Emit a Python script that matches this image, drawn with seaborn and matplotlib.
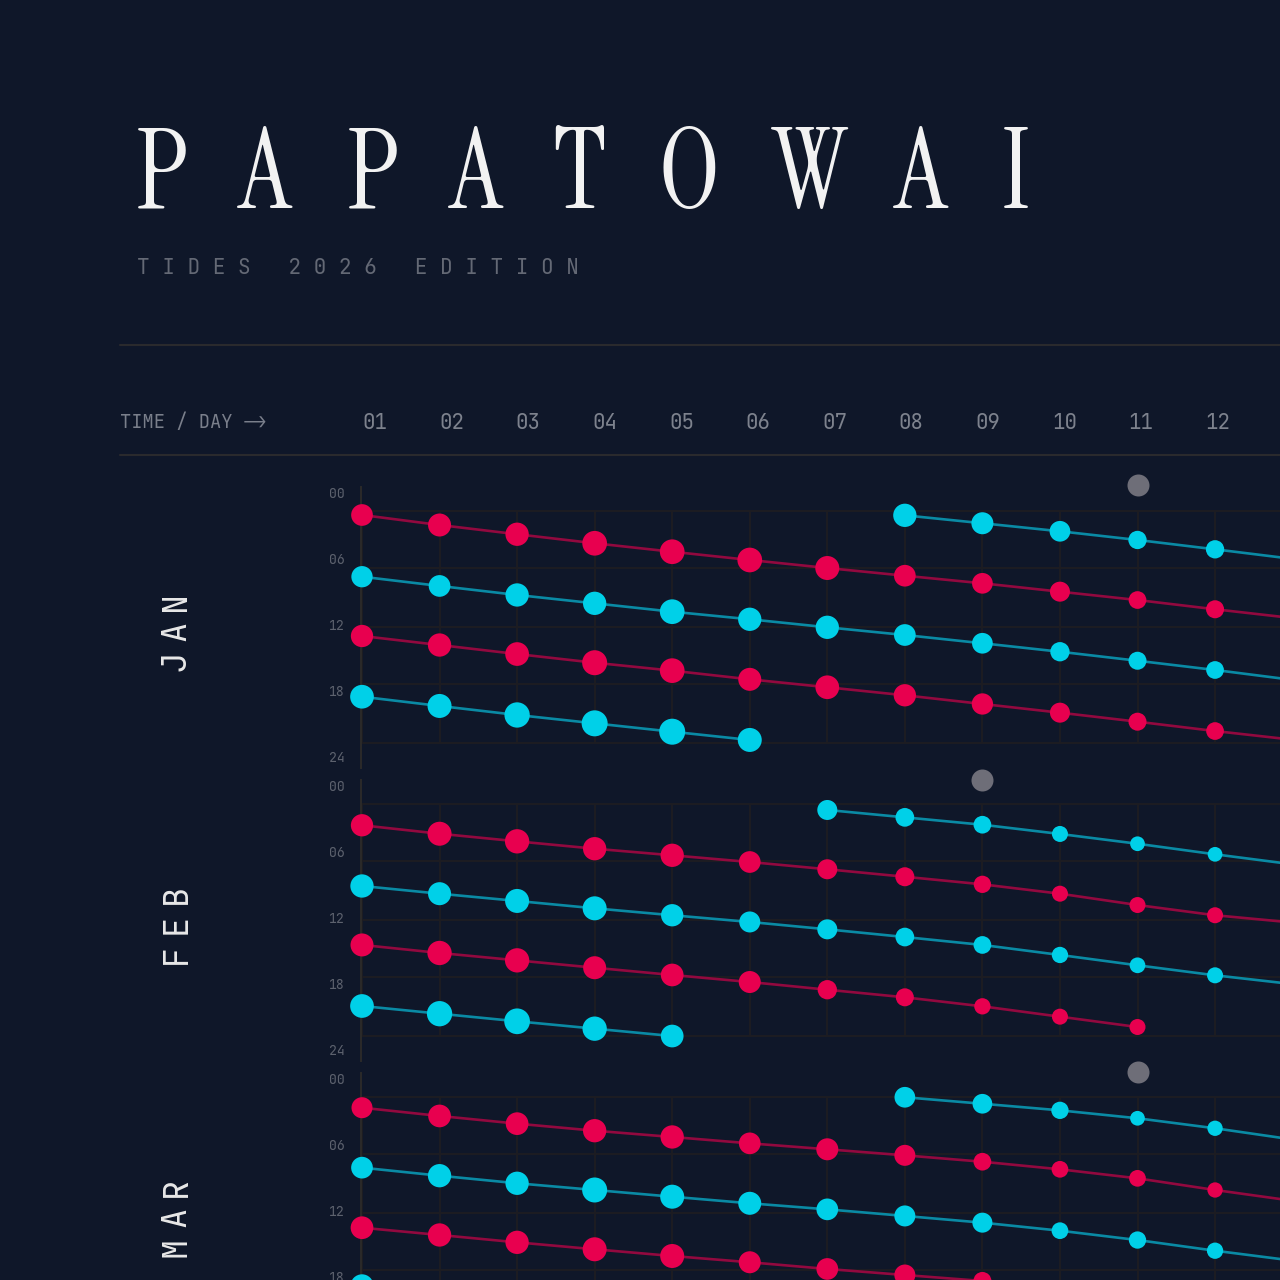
import matplotlib
matplotlib.use("Agg")
import matplotlib.pyplot as plt
from matplotlib import font_manager
from matplotlib.lines import Line2D
import pandas as pd
import seaborn as sns

# ---- data: tide times (hour of day) and heights (m) per tide track ----
months = ["JAN", "FEB", "MAR"]
day_labels = ["01", "02", "03", "04", "05", "06", "07", "08", "09", "10", "11", "12"]
hour_labels = ["00", "06", "12", "18", "24"]

jan_high1_hour = [2.00, 2.91, 3.75, 4.57, 5.34, 6.09, 6.82, 7.52, 8.21, 8.97, 9.73, 10.57, 11.37]
jan_high1_m = [2.17, 2.30, 2.33, 2.47, 2.47, 2.47, 2.40, 2.17, 2.07, 2.00, 1.77, 1.80, 1.75]
jan_low1_hour = [7.61, 8.45, 9.27, 10.03, 10.79, 11.48, 12.21, 12.91, 13.66, 14.43, 15.25, 16.09, 16.99]
jan_low1_m = [2.13, 2.17, 2.33, 2.33, 2.47, 2.33, 2.33, 2.17, 2.07, 1.93, 1.80, 1.77, 1.72]
jan_high2_hour = [13.00, 13.82, 14.64, 15.43, 16.15, 16.94, 17.66, 18.39, 19.18, 19.97, 20.79, 21.64, 22.43]
jan_high2_m = [2.23, 2.33, 2.37, 2.50, 2.47, 2.30, 2.37, 2.23, 2.13, 2.00, 1.80, 1.77, 1.72]
jan_low2_hour = [18.52, 19.36, 20.18, 20.94, 21.70, 22.45]
jan_low2_m = [2.37, 2.40, 2.53, 2.60, 2.60, 2.40]
jan_low3_hour = [2.03, 2.75, 3.48, 4.27, 5.12, 5.99]
jan_low3_m = [2.33, 2.20, 2.07, 1.83, 1.83, 1.75]

feb_high1_hour = [3.57, 4.34, 5.03, 5.70, 6.30, 6.91, 7.57, 8.25, 8.94, 9.79, 10.82, 11.75, 12.41]
feb_high1_m = [2.23, 2.40, 2.43, 2.33, 2.33, 2.17, 2.00, 1.90, 1.73, 1.60, 1.60, 1.60, 1.60]
feb_low1_hour = [9.09, 9.79, 10.45, 11.12, 11.75, 12.36, 13.03, 13.73, 14.45, 15.36, 16.30, 17.21, 18.01]
feb_low1_m = [2.33, 2.30, 2.40, 2.40, 2.23, 2.10, 2.00, 1.87, 1.77, 1.63, 1.57, 1.60, 1.60]
feb_high2_hour = [14.45, 15.18, 15.85, 16.52, 17.18, 17.82, 18.52, 19.21, 20.03, 20.97, 21.91]
feb_high2_m = [2.30, 2.43, 2.43, 2.30, 2.27, 2.20, 1.93, 1.80, 1.63, 1.60, 1.60]
feb_low2_hour = [20.00, 20.70, 21.39, 22.06, 22.73]
feb_low2_m = [2.37, 2.53, 2.57, 2.43, 2.27]
feb_low3_hour = [2.18, 2.85, 3.52, 4.36, 5.25, 6.21, 7.12]
feb_low3_m = [2.00, 1.87, 1.77, 1.60, 1.47, 1.47, 1.50]

mar_high1_hour = [2.61, 3.36, 4.06, 4.70, 5.27, 5.85, 6.39, 6.94, 7.52, 8.21, 9.03, 10.09, 11.07]
mar_high1_m = [2.10, 2.27, 2.27, 2.33, 2.33, 2.17, 2.20, 2.10, 1.77, 1.67, 1.67, 1.53, 1.55]
mar_low1_hour = [8.06, 8.79, 9.48, 10.09, 10.70, 11.30, 11.85, 12.45, 13.06, 13.79, 14.64, 15.61, 16.51]
mar_low1_m = [2.17, 2.33, 2.33, 2.50, 2.40, 2.30, 2.17, 2.10, 2.00, 1.67, 1.73, 1.63, 1.60]
mar_high2_hour = [13.52, 14.18, 14.85, 15.48, 16.09, 16.66, 17.27, 17.82, 18.36]
mar_high2_m = [2.27, 2.33, 2.33, 2.40, 2.40, 2.20, 2.17, 2.10, 1.80]
mar_low2_hour = [18.80]
mar_low2_m = [2.30]
mar_low3_hour = [1.66, 2.25, 2.85, 3.57, 4.48, 5.50]
mar_low3_m = [2.07, 1.97, 1.73, 1.47, 1.53, 1.55]

# first day of the late-month low track (others start on the 1st)
low3_start = [8, 7, 8]

# moon marker (day, hour) per month
moon_day = [11, 9, 11]
moon_hour = [-0.73, -0.55, -0.66]

# ---- build a long table ----
tracks = {
    "JAN": [("high1", jan_high1_hour, jan_high1_m), ("low1", jan_low1_hour, jan_low1_m),
            ("high2", jan_high2_hour, jan_high2_m), ("low2", jan_low2_hour, jan_low2_m),
            ("low3", jan_low3_hour, jan_low3_m)],
    "FEB": [("high1", feb_high1_hour, feb_high1_m), ("low1", feb_low1_hour, feb_low1_m),
            ("high2", feb_high2_hour, feb_high2_m), ("low2", feb_low2_hour, feb_low2_m),
            ("low3", feb_low3_hour, feb_low3_m)],
    "MAR": [("high1", mar_high1_hour, mar_high1_m), ("low1", mar_low1_hour, mar_low1_m),
            ("high2", mar_high2_hour, mar_high2_m), ("low2", mar_low2_hour, mar_low2_m),
            ("low3", mar_low3_hour, mar_low3_m)],
}
rows = []
for mi, month in enumerate(months):
    for name, hours, heights in tracks[month]:
        start = low3_start[mi] if name == "low3" else 1
        for i, (h, m) in enumerate(zip(hours, heights)):
            rows.append({"month": month, "track": month + name, "kind": name[:-1],
                         "day": start + i, "hour": h, "height": m})
df = pd.DataFrame(rows)

# ---- style ----
bg = "#0f1729"
red = "#e8004f"
cyan = "#00d0e8"
red_line = "#92093f"
cyan_line = "#0a8aa4"
grid_c = "#1d1d22"

sns.set_theme(style="dark", rc={"axes.facecolor": bg, "figure.facecolor": bg})

font_names = {f.name for f in font_manager.fontManager.ttflist}


def pick(cands, default):
    for c in cands:
        if c in font_names:
            return c
    return default


serif = pick(["Instrument Serif", "Liberation Serif"], "DejaVu Serif")
mono_name = pick(["JetBrains Mono", "DejaVu Sans Mono"], "DejaVu Sans Mono")
mono = [mono_name, "DejaVu Sans Mono", "DejaVu Sans"]
plt.rcParams["font.family"] = mono

W = 1280.0
fig = plt.figure(figsize=(12.8, 12.8), dpi=100)
fig.patch.set_facecolor(bg)


def fx(px):
    return px / W


def fy(py):
    return 1 - py / W


# title, one letter at a time for the wide tracking
title_x = [162, 265, 373, 476, 579, 689, 810, 921, 1016]
for ch, x in zip("PAPATOWAI", title_x):
    fig.text(fx(x), fy(208), ch, ha="center", va="baseline", fontsize=81,
             family=serif, color="#f2f2f2")
fig.text(fx(137), fy(268), "T I D E S   2 0 2 6   E D I T I O N", ha="left", va="center",
         fontsize=15.2, color="#646975")

for y in [345, 455]:
    fig.add_artist(Line2D([fx(120), 1.0], [fy(y), fy(y)], color="#2a2a2d", lw=1.5))
fig.text(fx(120), fy(423), "TIME / DAY \u27f6", ha="left", va="center", fontsize=13.5,
         color="#7a7f8b")

# day header labels
for d, lab in enumerate(day_labels):
    fig.text(fx(375 + 76.6 * d), fy(423), lab, ha="center", va="center",
             fontsize=15, color="#7d828d")

# panels
panel_top = [493, 786, 1079]
px_per_hour = 11.0
day_px0, day_step = 362.0, 77.55
grid_hours = [1.64, 6.82, 12.18, 17.36, 22.73]
days_all = list(range(1, 14))

size_map = {v: (v * 10 * 0.72) ** 2 for v in sorted(df["height"].unique())}

for mi, month in enumerate(months):
    L = panel_top[mi]
    ax = fig.add_axes([fx(361), fy(L + 275), 1 - fx(361), 281 / W])
    ax.set_facecolor("none")
    ax.set_xlim(1 + (361 - day_px0) / day_step, 1 + (W - day_px0) / day_step)
    ax.set_ylim(275 / px_per_hour, -6 / px_per_hour)

    for h in grid_hours:
        ax.axhline(h, color=grid_c, lw=1.4, zorder=0)
    ax.vlines(days_all, grid_hours[0], grid_hours[-1], color=grid_c, lw=1.4, zorder=0)

    sub = df[df["month"] == month]
    sns.lineplot(data=sub, x="day", y="hour", hue="kind", units="track", estimator=None,
                 palette={"high": red_line, "low": cyan_line}, lw=1.9, legend=False,
                 sort=False, ax=ax, zorder=2, clip_on=False)
    sns.scatterplot(data=sub, x="day", y="hour", hue="kind", size="height", sizes=size_map,
                    palette={"high": red, "low": cyan}, linewidth=0, legend=False,
                    ax=ax, zorder=3, clip_on=False)
    sns.scatterplot(x=[moon_day[mi]], y=[moon_hour[mi]], color="#6e6e78", s=(22 * 0.72) ** 2,
                    linewidth=0, ax=ax, zorder=3, clip_on=False)

    for side in ["top", "right", "bottom"]:
        ax.spines[side].set_visible(False)
    ax.spines["left"].set_color("#2b2a29")
    ax.spines["left"].set_linewidth(1.4)
    ax.set_xticks([])
    ax.set_yticks([0, 6, 12, 18, 24])
    ax.set_yticklabels(hour_labels, color="#5d626e", fontsize=9.5)
    ax.tick_params(axis="y", length=0, pad=12)
    ax.set_xlabel("")
    ax.set_ylabel("")
    ax.grid(False)

    # month name, letter-spaced, reading bottom to top
    cy = L + 138
    for k, ch in enumerate(month):
        fig.text(fx(176), fy(cy + 30 * (1 - k)), ch, rotation=90, ha="center", va="center",
                 fontsize=24, color="#e8e8e8")

fig.savefig("out.png", dpi=100, facecolor=bg)
